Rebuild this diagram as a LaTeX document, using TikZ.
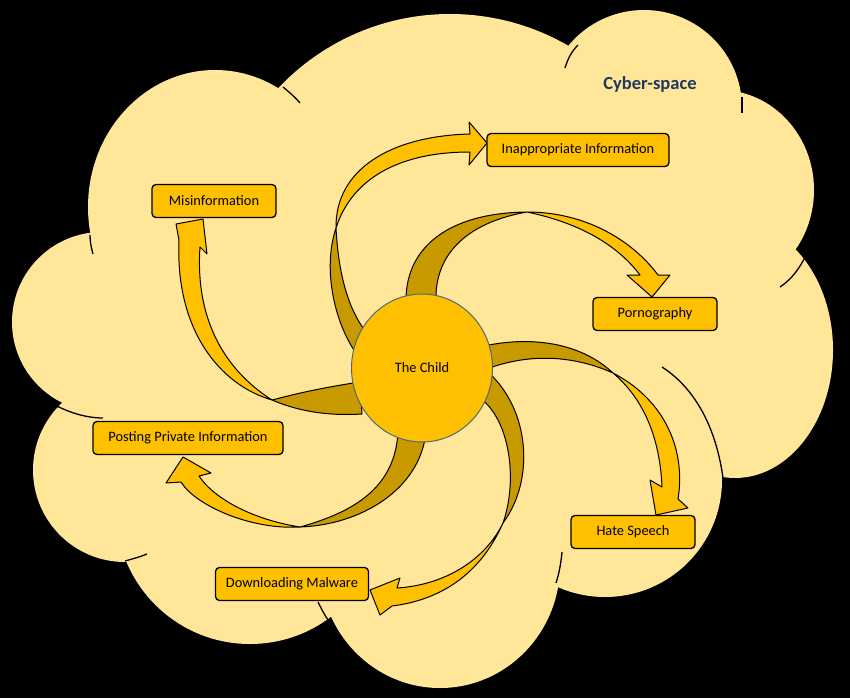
\documentclass[tikz,border=0pt]{standalone}
\usepackage{fontspec}
\setmainfont{Carlito}
\usetikzlibrary{shapes.geometric}
\definecolor{cloudc}{HTML}{FFE699}
\definecolor{gold}{HTML}{FFC000}
\definecolor{dkgold}{HTML}{C99A00}
\definecolor{navy}{HTML}{1F3864}
\definecolor{rimc}{HTML}{51687A}
\begin{document}
\begin{tikzpicture}[x=1pt,y=-1pt,
  seam/.style={draw=black,line width=1.3pt},
  backface/.style={fill=dkgold,draw=black,line width=1pt,line join=round},
  frontface/.style={fill=gold,draw=black,line width=1pt,line join=round},
  tagbox/.style={draw=black,fill=gold,line width=1.3pt,rounded corners=4pt,minimum height=33pt,inner sep=0pt,font=\fontsize{14.4}{16}\selectfont}]
\fill[black] (0,0) rectangle (850,698);
% cloud lobes
\begin{scope}[fill=cloudc]
\fill (215,207) ellipse [x radius=127, y radius=137];
\fill (450,250) circle [radius=236];
\fill (644,108) circle [radius=98];
\fill (720,190) ellipse [x radius=94, y radius=100];
\fill (735,350) ellipse [x radius=98, y radius=128];
\fill (605,480) circle [radius=117];
\fill (440,565) ellipse [x radius=120, y radius=123];
\fill (250,510) circle [radius=134];
\fill (125,470) circle [radius=92];
\fill (102,322) circle [radius=90];
\fill (60,420) -- (100,250) -- (300,90) -- (600,60) -- (760,160) -- (800,330) -- (700,500) -- (450,600) -- (200,580) -- cycle;
\end{scope}
% inner seams of the cloud
\draw[seam] (565,68) .. controls (568,58) and (572,51) .. (578,45);
\draw[seam] (742,97) -- (742,113);
\draw[seam] (807,253) .. controls (800,268) and (792,279) .. (780,287);
\draw[seam] (662,367) .. controls (690,385) and (715,420) .. (723,478);
\draw[seam] (562,552) .. controls (561,563) and (559,574) .. (556,583);
\draw[seam] (318,602) .. controls (321,608) and (324,614) .. (328,620);
\draw[seam] (125,561) .. controls (132,559) and (140,557) .. (147,554);
\draw[seam] (55,405) .. controls (70,413) and (87,418) .. (103,418);
\draw[seam] (90,235) .. controls (90,241) and (91,247) .. (93,254);
\draw[seam] (283,87) .. controls (289,92) and (295,97) .. (300,103);
% curved arrows: Inappropriate Information
\path[backface] (358,356) .. controls (335,325) and (322,270) .. (336,228) .. controls (338,265) and (345,305) .. (366,332) -- cycle;
\path[frontface] (336,228) .. controls (335,170) and (390,136) .. (470,134) -- (469,122) -- (487,143) -- (469,165) -- (470,152) .. controls (400,152) and (352,178) .. (336,228) -- cycle;
% Pornography
\path[backface] (406,302) .. controls (405,250) and (445,213) .. (527,212) .. controls (470,222) and (434,252) .. (436,302) -- cycle;
\path[frontface] (527,212) .. controls (585,212) and (632,240) .. (658,275) -- (670,275) -- (652,297) -- (627,275) -- (640,275) .. controls (615,242) and (575,222) .. (527,212) -- cycle;
% Hate Speech
\path[backface] (484,346) .. controls (530,336) and (580,342) .. (613,373) .. controls (575,356) and (530,352) .. (484,370) -- cycle;
\path[frontface] (613,373) .. controls (665,400) and (686,450) .. (678,499) -- (688,508) -- (656,515) -- (650,480) -- (662,487) .. controls (660,440) and (645,400) .. (613,373) -- cycle;
% Downloading Malware
\path[backface] (488,372) .. controls (530,410) and (535,480) .. (503,523) .. controls (518,480) and (510,420) .. (480,398) -- cycle;
\path[frontface] (503,523) .. controls (480,575) and (440,600) .. (392,606) -- (380,615) -- (370,590) -- (400,578) -- (397,588) .. controls (445,585) and (485,560) .. (503,523) -- cycle;
% Posting Private Information
\path[backface] (426,432) .. controls (420,490) and (360,525) .. (300,527) .. controls (350,513) and (395,490) .. (398,432) -- cycle;
\path[frontface] (300,527) .. controls (250,530) and (195,505) .. (181,482) -- (166,483) -- (183,457) -- (211,473) -- (199,476) .. controls (215,500) and (255,520) .. (300,527) -- cycle;
% Misinformation
\path[backface] (360,382) .. controls (320,388) and (295,394) .. (272,400) .. controls (300,412) and (330,416) .. (362,414) -- cycle;
\path[frontface] (272,400) .. controls (220,385) and (175,330) .. (179,240) -- (176,224) -- (203,219) -- (207,254) -- (200,247) .. controls (195,320) and (225,370) .. (272,400) -- cycle;
% centre
\node[ellipse, draw=rimc, line width=1pt, fill=gold, minimum width=141pt, minimum height=148pt, inner sep=0pt, font=\fontsize{14.4}{16}\selectfont] (child) at (422,368) {The Child};
% labels
\node[tagbox, minimum width=124pt] (mis) at (214,201) {Misinformation};
\node[tagbox, minimum width=182pt] (inap) at (578,150) {Inappropriate Information};
\node[tagbox, minimum width=124pt] (porn) at (655,314) {Pornography};
\node[tagbox, minimum width=124pt] (hate) at (633,532) {Hate Speech};
\node[tagbox, minimum width=153pt] (mal) at (292,584) {Downloading Malware};
\node[tagbox, minimum width=190pt] (post) at (188,438) {Posting Private Information};
\node[font=\bfseries\fontsize{18.5}{20}\selectfont, text=navy] (cs) at (650,84) {Cyber-space};
\end{tikzpicture}
\end{document}
